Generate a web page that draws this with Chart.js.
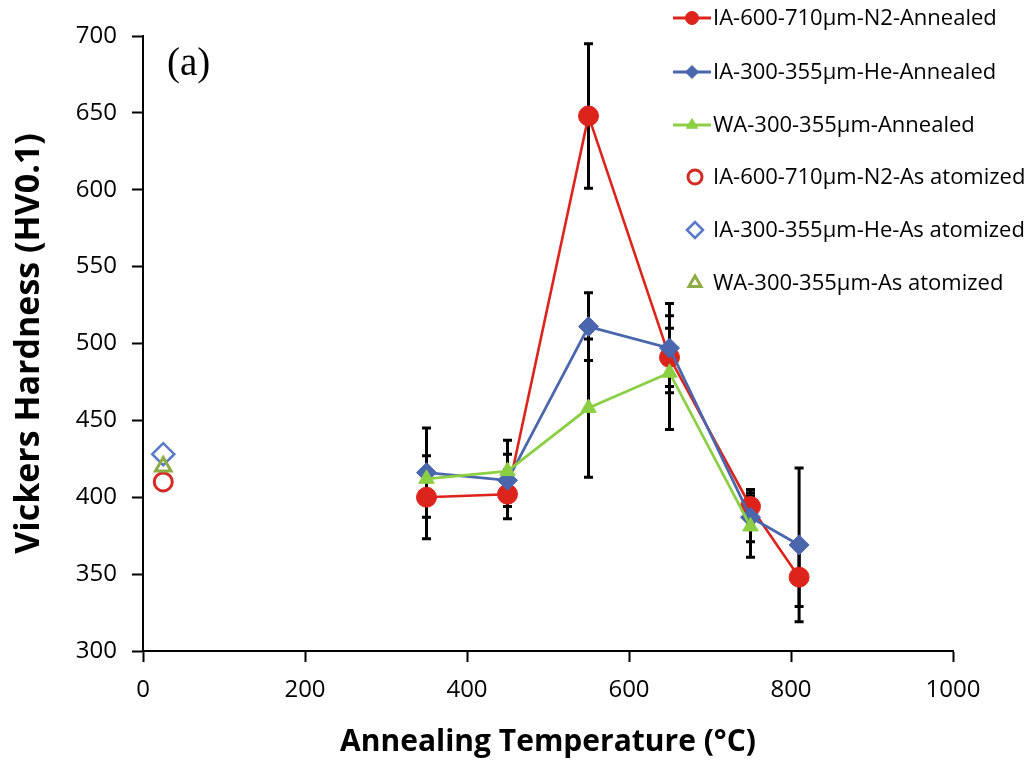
<!DOCTYPE html>
<html>
<head>
<meta charset="utf-8">
<script src="https://cdn.jsdelivr.net/npm/chart.js@4/dist/chart.umd.min.js"></script>
<style>
html,body{margin:0;padding:0;background:#fff;}
canvas{display:block;}
</style>
</head>
<body>
<canvas id="c" width="1034" height="764"></canvas>
<script>
// ---- data ----
const annealTemps = [350, 450, 550, 650, 750, 810];
const redAnnealed = [400, 402, 648, 491, 394, 348];
const redErr = [27, 16, 47, 19, 11, 19];
const blueAnnealed = [416, 411, 511, 497, 387, 369];
const blueErr = [29, 17, 22, 29, 16, 50];
const greenTemps = [350, 450, 550, 650, 750];
const greenAnnealed = [412, 417, 458, 481, 381];
const greenErr = [null, 20, 45, 37, 20];
const atomTemp = [25];
const redAtom = [410];
const blueAtom = [428];
const greenAtom = [420];
const xTicks = [0, 200, 400, 600, 800, 1000];
const yTicks = [300, 350, 400, 450, 500, 550, 600, 650, 700];
const seriesNames = [
  'IA-600-710\u00b5m-N2-Annealed',
  'IA-300-355\u00b5m-He-Annealed',
  'WA-300-355\u00b5m-Annealed',
  'IA-600-710\u00b5m-N2-As atomized',
  'IA-300-355\u00b5m-He-As atomized',
  'WA-300-355\u00b5m-As atomized'
];

const RED = '#dc241c', BLUE = '#4a66ad', GREEN = '#8ccf45';
const RED_O = '#d32a25', BLUE_O = '#5878c8', GREEN_O = '#8eac45';

const pts = (xs, ys) => xs.map((x, i) => ({x: x, y: ys[i]}));

const datasets = [
  {label: seriesNames[0], data: pts(annealTemps, redAnnealed), err: redErr, showLine: true,
   borderColor: RED, backgroundColor: RED, borderWidth: 2.6, pointStyle: 'circle', pointRadius: 10,
   pointBackgroundColor: RED, pointBorderColor: RED, pointBorderWidth: 1, order: 3},
  {label: seriesNames[1], data: pts(annealTemps, blueAnnealed), err: blueErr, showLine: true,
   borderColor: BLUE, backgroundColor: BLUE, borderWidth: 2.8, pointStyle: 'rectRot', pointRadius: 10,
   pointBackgroundColor: BLUE, pointBorderColor: BLUE, pointBorderWidth: 1, order: 2},
  {label: seriesNames[2], data: pts(greenTemps, greenAnnealed), err: greenErr, showLine: true,
   borderColor: GREEN, backgroundColor: GREEN, borderWidth: 2.8, pointStyle: 'triangle', pointRadius: 9,
   pointBackgroundColor: GREEN, pointBorderColor: GREEN, pointBorderWidth: 1, order: 1},
  {label: seriesNames[3], data: pts(atomTemp, redAtom), showLine: false,
   pointStyle: 'circle', pointRadius: 9, pointBackgroundColor: 'rgba(0,0,0,0)', pointBorderColor: RED_O, pointBorderWidth: 3, order: 6},
  {label: seriesNames[4], data: pts(atomTemp, blueAtom), showLine: false,
   pointStyle: 'rectRot', pointRadius: 11, pointBackgroundColor: 'rgba(0,0,0,0)', pointBorderColor: BLUE_O, pointBorderWidth: 2.5, order: 5},
  {label: seriesNames[5], data: pts(atomTemp, greenAtom), showLine: false,
   pointStyle: 'triangle', pointRadius: 9, pointBackgroundColor: 'rgba(0,0,0,0)', pointBorderColor: GREEN_O, pointBorderWidth: 3, order: 4}
];

const errorBars = {
  id: 'errorBars',
  beforeDatasetsDraw(chart) {
    const ctx = chart.ctx, xs = chart.scales.x, ys = chart.scales.y;
    ctx.save();
    ctx.strokeStyle = '#000';
    ctx.lineWidth = 3;
    chart.data.datasets.forEach(ds => {
      if (!ds.err) return;
      ds.data.forEach((p, i) => {
        const e = ds.err[i];
        if (e == null) return;
        const px = xs.getPixelForValue(p.x);
        const yt = ys.getPixelForValue(p.y + e);
        const yb = ys.getPixelForValue(p.y - e);
        ctx.beginPath();
        ctx.moveTo(px, yt); ctx.lineTo(px, yb);
        ctx.moveTo(px - 4.5, yt); ctx.lineTo(px + 4.5, yt);
        ctx.moveTo(px - 4.5, yb); ctx.lineTo(px + 4.5, yb);
        ctx.stroke();
      });
    });
    ctx.restore();
  }
};

const extras = {
  id: 'extras',
  afterDraw(chart) {
    const ctx = chart.ctx;
    ctx.save();
    // panel label
    ctx.fillStyle = '#000';
    ctx.font = '39px "Liberation Serif"';
    ctx.textAlign = 'left';
    ctx.textBaseline = 'alphabetic';
    ctx.fillText('(a)', 167, 75);
    // legend
    const rows = [18, 72, 125, 177, 230, 283];
    const dsets = chart.data.datasets;
    ctx.font = '22px "Open Sans"';
    ctx.textBaseline = 'middle';
    rows.forEach((y, i) => {
      const ds = dsets[i];
      if (i < 3) {
        ctx.strokeStyle = ds.borderColor;
        ctx.lineWidth = 2.8;
        ctx.beginPath(); ctx.moveTo(673, y); ctx.lineTo(711, y); ctx.stroke();
        ctx.fillStyle = ds.pointBackgroundColor;
        ctx.strokeStyle = ds.pointBorderColor;
        ctx.lineWidth = 1;
        Chart.helpers.drawPoint(ctx, {pointStyle: ds.pointStyle, radius: 6.5, rotation: 0, borderWidth: 1}, 692, y);
      } else {
        ctx.fillStyle = 'rgba(0,0,0,0)';
        ctx.strokeStyle = ds.pointBorderColor;
        ctx.lineWidth = ds.pointBorderWidth;
        const r = ds.pointStyle === 'rectRot' ? 8 : 7;
        Chart.helpers.drawPoint(ctx, {pointStyle: ds.pointStyle, radius: r, rotation: 0, borderWidth: ds.pointBorderWidth}, 695, y);
      }
      ctx.fillStyle = '#000';
      ctx.fillText(ds.label, 713, y + 1);
    });
    ctx.restore();
  }
};

new Chart(document.getElementById('c'), {
  type: 'scatter',
  data: {datasets: datasets},
  options: {
    responsive: false,
    animation: false,
    devicePixelRatio: 1,
    layout: {padding: {left: 0, right: 81, top: 36, bottom: 0}, autoPadding: false},
    plugins: {legend: {display: false}, tooltip: {enabled: false}},
    elements: {line: {tension: 0}},
    scales: {
      x: {
        type: 'linear', min: 0, max: 1000,
        afterBuildTicks: s => { s.ticks = xTicks.map(v => ({value: v})); },
        afterFit: s => { s.height = 113; },
        ticks: {color: '#000', font: {family: 'Open Sans', size: 24}, padding: 14, maxRotation: 0,
                callback: v => String(v)},
        grid: {display: true, drawOnChartArea: false, drawTicks: true, tickLength: 11, tickWidth: 2, tickColor: '#000'},
        border: {display: true, color: '#000', width: 2},
        title: {display: true, text: 'Annealing Temperature (\u00b0C)', color: '#000',
                font: {family: 'Open Sans', size: 30, weight: 'bold'}, padding: {top: 0, bottom: 4}}
      },
      y: {
        type: 'linear', min: 300, max: 700,
        afterBuildTicks: s => { s.ticks = yTicks.map(v => ({value: v})); },
        afterFit: s => { s.width = 143; },
        ticks: {color: '#000', font: {family: 'Open Sans', size: 24}, padding: 15, callback: v => String(v)},
        grid: {display: true, drawOnChartArea: false, drawTicks: true, tickLength: 11, tickWidth: 2, tickColor: '#000'},
        border: {display: true, color: '#000', width: 2},
        title: {display: true, text: 'Vickers Hardness (HV0.1)', color: '#000',
                font: {family: 'Open Sans', size: 34, weight: 'bold'}, padding: {top: 9, bottom: 0}}
      }
    }
  },
  plugins: [errorBars, extras]
});
</script>
</body>
</html>
